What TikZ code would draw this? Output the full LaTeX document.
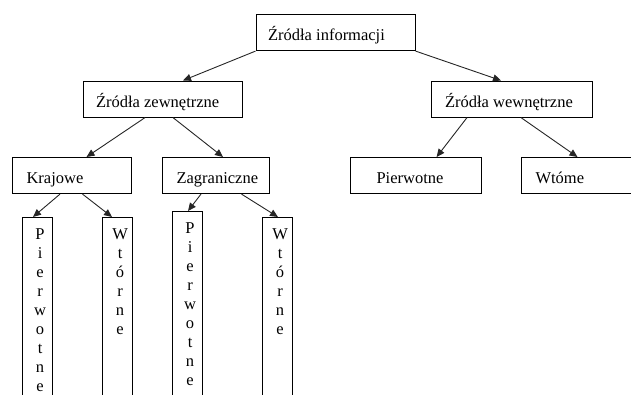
\documentclass[tikz,border=0pt]{standalone}
\usepackage{fontspec}
\setmainfont{Liberation Serif}
\usetikzlibrary{arrows.meta}
\newcommand\boxtext[3]{\makebox[#1pt][l]{\hspace*{#2pt}#3}}
\newcommand\vtext[1]{\parbox[c][200pt][t]{30pt}{\centering\leftskip=5pt plus 1fil\rightskip=0pt plus 1fil\rule{0pt}{22pt}#1}}
\begin{document}
\begin{tikzpicture}[x=1pt,y=-1pt,
  hbox/.style={draw,line width=1.1pt,rectangle,anchor=north west,minimum height=36pt,inner sep=0pt,text height=16pt,text depth=0pt,font=\fontsize{16.5}{19}\selectfont},
  vbox/.style={draw,line width=1.1pt,rectangle,anchor=north west,inner sep=0pt,font=\fontsize{16.5}{19}\selectfont},
  conn/.style={draw=black!85,line width=0.9pt,-{Triangle[length=8pt,width=7pt]}}]
\useasboundingbox (0,0) rectangle (631,394);
\node[hbox] (top) at (255.5,14) {\boxtext{159}{12}{Źródła informacji}};
\node[hbox] (zew) at (82.5,80.5) {\boxtext{159}{13}{Źródła zewnętrzne}};
\node[hbox] (wew) at (431,80.5) {\boxtext{160.5}{13.5}{Źródła wewnętrzne}};
\node[hbox] (kraj) at (12,157) {\boxtext{119}{14}{Krajowe}};
\node[hbox] (zag) at (162,157) {\boxtext{107}{14}{Zagraniczne}};
\node[hbox] (pier) at (350,157) {\boxtext{131}{26}{Pierwotne}};
\node[hbox] (wtom) at (521,157) {\boxtext{130}{14}{Wtóme}};
\node[vbox] (v1) at (22,217) {\vtext{P\\i\\e\\r\\w\\o\\t\\n\\e}};
\node[vbox] (v2) at (102,217) {\vtext{W\\t\\ó\\r\\n\\e}};
\node[vbox] (v3) at (172,211) {\vtext{P\\i\\e\\r\\w\\o\\t\\n\\e}};
\node[vbox] (v4) at (262,217) {\vtext{W\\t\\ó\\r\\n\\e}};
\draw[conn] (top.south west) -- ([xshift=100.5pt]zew.north west);
\draw[conn] (top.south east) -- ([xshift=70pt]wew.north west);
\draw[conn] ([xshift=62.5pt]zew.south west) -- ([xshift=74.5pt]kraj.north west);
\draw[conn] ([xshift=90.5pt]zew.south west) -- ([xshift=61pt]zag.north west);
\draw[conn] ([xshift=36pt]wew.south west) -- ([xshift=86.6pt]pier.north west);
\draw[conn] ([xshift=90pt]wew.south west) -- ([xshift=56.5pt]wtom.north west);
\draw[conn] ([xshift=48pt]kraj.south west) -- ([xshift=11pt]v1.north west);
\draw[conn] ([xshift=70.5pt]kraj.south west) -- ([xshift=10pt]v2.north west);
\draw[conn] ([xshift=39pt]zag.south west) -- ([xshift=16pt]v3.north west);
\draw[conn] ([xshift=79.5pt]zag.south west) -- ([xshift=16pt]v4.north west);
\end{tikzpicture}
\end{document}
